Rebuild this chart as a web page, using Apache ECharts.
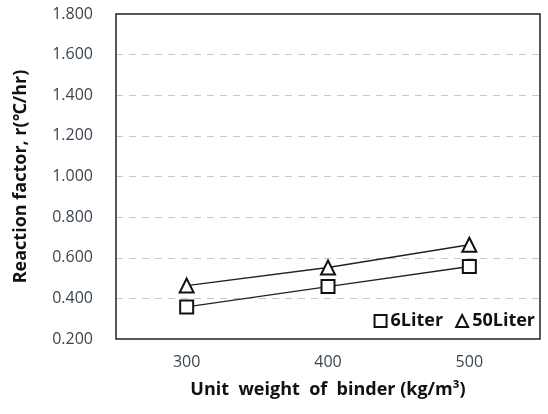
<!DOCTYPE html>
<html><head><meta charset="utf-8">
<script src="https://cdn.jsdelivr.net/npm/echarts@6/dist/echarts.min.js"></script>
<style>html,body{margin:0;padding:0;background:#fff}#c{width:548px;height:414px}</style>
</head><body><div id="c"></div>
<script>
const categories = ['300', '400', '500'];
const liter6 = [0.358, 0.458, 0.557];
const liter50 = [0.463, 0.552, 0.664];
const yTicks = [0.2, 0.4, 0.6, 0.8, 1.0, 1.2, 1.4, 1.6, 1.8];

const chart = echarts.init(document.getElementById('c'));
const font = '"Open Sans", "Noto Sans", sans-serif';
const mk = {color: '#fff', borderColor: '#111', borderWidth: 2};
chart.setOption({
  animation: false,
  grid: {left: 116, right: 8, top: 14, bottom: 75, show: true, borderColor: '#222', borderWidth: 1.5, backgroundColor: 'transparent', z: 5},
  xAxis: {
    type: 'category', data: categories, boundaryGap: true,
    axisLine: {show: false}, axisTick: {show: false},
    axisLabel: {color: '#3c4650', fontSize: 16, fontFamily: font, margin: 15},
    name: 'Unit  weight  of  binder (kg/m³)', nameLocation: 'middle', nameGap: 42,
    nameTextStyle: {color: '#111', fontSize: 18, fontWeight: 'bold', fontFamily: font}
  },
  yAxis: {
    type: 'value', min: 0.2, max: 1.8, interval: 0.2,
    axisLine: {show: false}, axisTick: {show: false},
    axisLabel: {color: '#3c4650', fontSize: 16, fontFamily: font, margin: 23, formatter: v => v.toFixed(3)},
    splitLine: {show: true, showMinLine: false, showMaxLine: false, lineStyle: {color: '#c8c8c8', type: [7, 6], width: 1.2}},
    name: 'Reaction factor, r(℃/hr)', nameLocation: 'middle', nameGap: 86, nameRotate: 90,
    nameTextStyle: {color: '#111', fontSize: 18, fontWeight: 'bold', fontFamily: font}
  },
  legend: {
    right: 8, bottom: 79, itemGap: 12, itemWidth: 12, itemHeight: 12,
    textStyle: {color: '#111', fontSize: 18, fontWeight: 'bold', fontFamily: font, padding: [0, 0, 0, -1]},
    data: [
      {name: '6Liter', icon: 'rect', itemStyle: mk},
      {name: '50Liter', icon: 'triangle', itemStyle: mk}
    ]
  },
  series: [
    {name: '6Liter', type: 'line', data: liter6, symbol: 'rect', symbolSize: 13,
     itemStyle: mk, lineStyle: {color: '#222', width: 1.3}, z: 3},
    {name: '50Liter', type: 'line', data: liter50, symbol: 'triangle', symbolSize: 14,
     itemStyle: mk, lineStyle: {color: '#222', width: 1.3}, z: 3}
  ]
});
</script></body></html>
